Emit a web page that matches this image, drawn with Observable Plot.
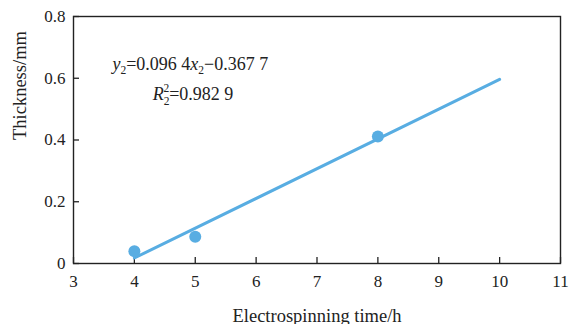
<!DOCTYPE html>
<html>
<head>
<meta charset="utf-8">
<script src="https://cdn.jsdelivr.net/npm/d3@7"></script>
<script src="https://cdn.jsdelivr.net/npm/@observablehq/plot@0.6"></script>
<style>
  html, body { margin: 0; padding: 0; background: #fff; }
  #chart svg { display: block; }
  #chart svg text { font-family: 'Liberation Serif', 'Times New Roman', serif; }
</style>
</head>
<body>
<div id="chart"></div>
<script>
const xTicks = [3, 4, 5, 6, 7, 8, 9, 10, 11];
const yTicks = [0, 0.2, 0.4, 0.6, 0.8];
const yTickLabels = ["0", "0.2", "0.4", "0.6", "0.8"];
const times = [4, 5, 8];
const thickness = [0.04, 0.087, 0.411];
const fitX = [4, 10];
const fitY = [0.0179, 0.5963];
const xLabel = "Electrospinning time/h";
const yLabel = "Thickness/mm";
const eqLine = "y₂=0.096 4x₂−0.367 7";
const r2Line = "R₂²=0.982 9";

const W = 572, H = 324;
const mL = 73, mR = 12, mT = 16, mB = 61;
const pw = W - mL - mR, ph = H - mT - mB;
const blue = "#58ade2";
const font = "'Liberation Serif', 'Times New Roman', serif";

const points = times.map((t, i) => ({t, v: thickness[i]}));
const fit = fitX.map((x, i) => ({x, y: fitY[i]}));

const chart = Plot.plot({
  width: W, height: H,
  marginLeft: mL, marginRight: mR, marginTop: mT, marginBottom: mB,
  style: {fontFamily: font, fontSize: "17px", color: "#222", background: "#fff"},
  x: {domain: [3, 11]},
  y: {domain: [0, 0.8]},
  marks: [
    Plot.axisX({ticks: xTicks, tickSize: 0, tickPadding: 11, label: null, fontSize: 17, fontFamily: font}),
    Plot.axisY({ticks: yTicks, tickSize: 0, tickPadding: 8, label: null, fontSize: 17, fontFamily: font,
      tickFormat: d => yTickLabels[yTicks.indexOf(d)]}),
    Plot.tickX(xTicks, {x: d => d, insetTop: ph - 6, stroke: "#222", strokeWidth: 1.3}),
    Plot.tickY(yTicks, {y: d => d, insetRight: pw - 6, stroke: "#222", strokeWidth: 1.3}),
    Plot.frame({stroke: "#222", strokeWidth: 1.4}),
    Plot.line(fit, {x: "x", y: "y", stroke: blue, strokeWidth: 3}),
    Plot.dot(points, {x: "t", y: "v", r: 6, fill: blue, stroke: "none"}),
    Plot.text([eqLine], {x: 3.64, y: 0.645, text: d => d, textAnchor: "start", fontSize: 18, fontFamily: font, fill: "#222", className: "eq"}),
    Plot.text([r2Line], {x: 4.3, y: 0.548, text: d => d, textAnchor: "start", fontSize: 18, fontFamily: font, fill: "#222", className: "r2"}),
    Plot.text([xLabel], {frameAnchor: "bottom", dy: 58, lineAnchor: "bottom", fontSize: 18.5, fontFamily: font, fill: "#222", text: d => d}),
    Plot.text([yLabel], {frameAnchor: "left", dx: -53, rotate: -90, fontSize: 18.5, fontFamily: font, fill: "#222", text: d => d})
  ]
});
document.getElementById("chart").appendChild(chart);

// Rich formatting for equation text (italic variables, subscripts/superscripts)
function richify(cls, parts) {
  const t = d3.select(chart).select("g." + cls + " text");
  if (t.empty()) return;
  t.text(null);
  parts.forEach(p => {
    const ts = t.append("tspan").text(p.s);
    if (p.i) ts.attr("font-style", "italic");
    if (p.sub) ts.attr("font-size", "11.5px").attr("dy", p.sdy || 4);
    if (p.sup) ts.attr("font-size", "11.5px");
    if (p.dx) ts.attr("dx", p.dx);
    if (p.dy) ts.attr("dy", p.dy);
  });
}
richify("eq", [
  {s: "y", i: true},
  {s: "2", sub: true},
  {s: "=0.096 4", dy: -4},
  {s: "x", i: true},
  {s: "2", sub: true},
  {s: "−0.367 7", dy: -4}
]);
richify("r2", [
  {s: "R", i: true},
  {s: "2", sub: true, sdy: 5},
  {s: "2", sup: true, dx: -6, dy: -13},
  {s: "=0.982 9", dy: 8}
]);
</script>
</body>
</html>
